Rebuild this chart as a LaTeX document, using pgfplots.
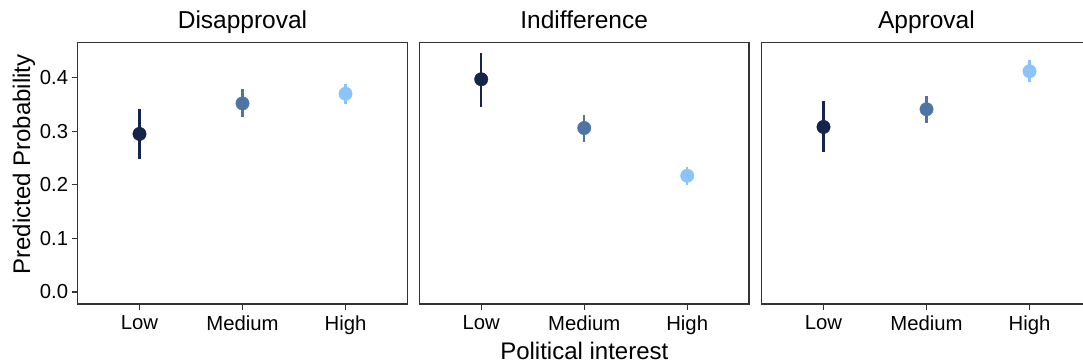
\documentclass[border=0pt]{standalone}
\usepackage{fontspec}
\setmainfont{Liberation Sans}
\usepackage{pgfplots}
\pgfplotsset{compat=1.18}
\definecolor{cLow}{HTML}{14244A}
\definecolor{cMed}{HTML}{4D74A4}
\definecolor{cHigh}{HTML}{8AC4FA}
\definecolor{frame}{HTML}{333333}
\pgfplotsset{
  facet/.style={
    scale only axis, width=329.6pt, height=261.7pt, anchor=south west,
    xmin=-0.6, xmax=2.6, ymin=-0.0224, ymax=0.466,
    axis line style={frame, line width=1.1pt},
    xtick={0,1,2}, xticklabels={Low,Medium,High},
    tick align=outside, major tick length=6pt,
    tick style={frame, line width=1.1pt},
    xtick pos=bottom, ytick pos=left,
    ticklabel style={font=\fontsize{20.3}{24}\selectfont},
    xticklabel style={yshift=-2pt},
    clip=false,
  },
  dot/.style={only marks, mark=*, mark size=6.7pt, color=#1,
    mark options={draw=none, fill=#1},
    error bars/.cd, y dir=both, y explicit, error mark=none,
    error bar style={line width=2.2pt, color=#1}},
}
\newcommand{\tfont}{\fontsize{24.5}{29}\selectfont}
\newcommand{\afont}{\fontsize{24}{28}\selectfont}
\begin{document}
\begin{tikzpicture}
% Panel 1: Disapproval
\begin{axis}[facet, at={(77.7pt,59pt)},
  ytick={0,0.1,0.2,0.3,0.4}, yticklabels={0.0,0.1,0.2,0.3,0.4}]
  \addplot[dot=cLow] coordinates {(0,0.295) += (0,0.046) -= (0,0.047)};
  \addplot[dot=cMed] coordinates {(1,0.352) += (0,0.026) -= (0,0.0255)};
  \addplot[dot=cHigh] coordinates {(2,0.370) += (0,0.019) -= (0,0.019)};
\end{axis}
% Panel 2: Indifference
\begin{axis}[facet, at={(419.4pt,59pt)}, ytick=\empty]
  \addplot[dot=cLow] coordinates {(0,0.397) += (0,0.049) -= (0,0.051)};
  \addplot[dot=cMed] coordinates {(1,0.306) += (0,0.025) -= (0,0.026)};
  \addplot[dot=cHigh] coordinates {(2,0.217) += (0,0.017) -= (0,0.017)};
\end{axis}
% Panel 3: Approval
\begin{axis}[facet, at={(761.7pt,59pt)}, ytick=\empty]
  \addplot[dot=cLow] coordinates {(0,0.308) += (0,0.048) -= (0,0.047)};
  \addplot[dot=cMed] coordinates {(1,0.341) += (0,0.025) -= (0,0.026)};
  \addplot[dot=cHigh] coordinates {(2,0.412) += (0,0.021) -= (0,0.020)};
\end{axis}
% facet titles
\node[anchor=base, font=\tfont] at (242.5pt,334.7pt) {Disapproval};
\node[anchor=base, font=\tfont] at (584.2pt,334.7pt) {Indifference};
\node[anchor=base, font=\tfont] at (926.4pt,334.7pt) {Approval};
% axis labels
\node[anchor=base, font=\afont] at (584.3pt,3.7pt) {Political interest};
\node[anchor=base, rotate=90, font=\afont] at (30pt,198.5pt) {Predicted Probability};
\pgfresetboundingbox
\useasboundingbox (0,0) rectangle (1083pt,363pt);
\end{tikzpicture}
\end{document}
